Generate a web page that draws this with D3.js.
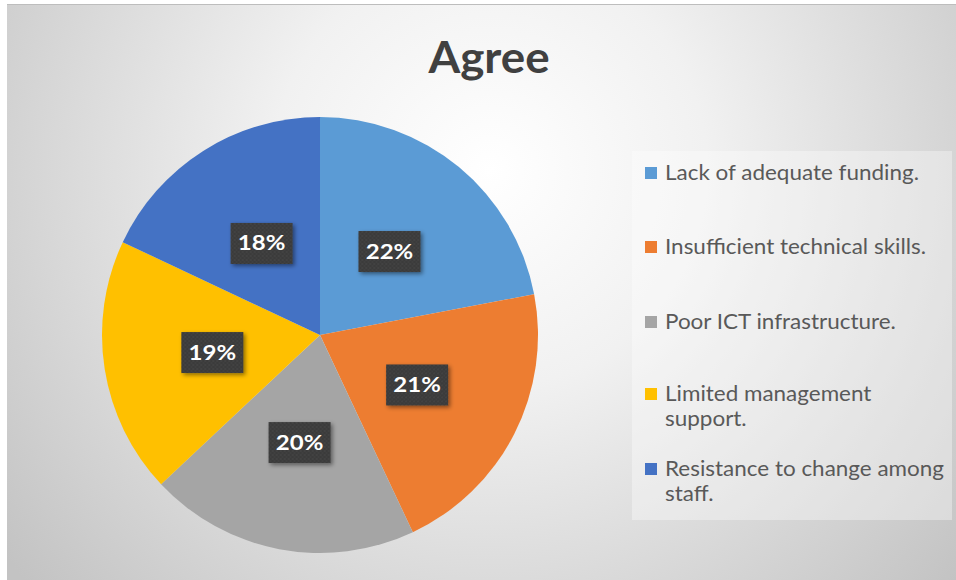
<!DOCTYPE html>
<html><head><meta charset="utf-8">
<script src="https://cdn.jsdelivr.net/npm/d3@7"></script>
<style>html,body{margin:0;padding:0;background:#fff;}svg{display:block;}</style>
</head><body>
<svg id="c" width="956" height="580"></svg>
<script>
const title = "Agree";
const categories = ["Lack of adequate funding.", "Insufficient technical skills.", "Poor ICT infrastructure.", "Limited management support.", "Resistance to change among staff."];
const legendLines = [["Lack of adequate funding."], ["Insufficient technical skills."], ["Poor ICT infrastructure."], ["Limited management", "support."], ["Resistance to change among", "staff."]];
const values = [22, 21, 20, 19, 18];
const labels = ["22%", "21%", "20%", "19%", "18%"];
const colors = ["#5B9BD5", "#ED7D31", "#A5A5A5", "#FFC000", "#4472C4"];

const svg = d3.select("#c");
const defs = svg.append("defs");
const rg = defs.append("radialGradient").attr("id","bg").attr("gradientUnits","userSpaceOnUse")
  .attr("cx",490).attr("cy",170).attr("r",620);
rg.append("stop").attr("offset","0").attr("stop-color","#ffffff");
rg.append("stop").attr("offset","0.35").attr("stop-color","#f1f1f1");
rg.append("stop").attr("offset","1").attr("stop-color","#c3c3c3");

const pat = defs.append("pattern").attr("id","dots").attr("patternUnits","userSpaceOnUse").attr("width",4).attr("height",4);
pat.append("rect").attr("width",4).attr("height",4).attr("fill","#3a3a3a");
pat.append("circle").attr("cx",1).attr("cy",1).attr("r",0.8).attr("fill","#4e4e4e");
pat.append("circle").attr("cx",3).attr("cy",3).attr("r",0.8).attr("fill","#454545");

const sh = defs.append("filter").attr("id","sh").attr("x","-30%").attr("y","-30%").attr("width","160%").attr("height","160%");
sh.append("feDropShadow").attr("dx",2).attr("dy",2).attr("stdDeviation",2).attr("flood-color","#000").attr("flood-opacity",0.45);

svg.append("rect").attr("x",7).attr("y",4).attr("width",949).attr("height",576).attr("fill","url(#bg)");
svg.append("line").attr("x1",7).attr("x2",956).attr("y1",4.5).attr("y2",4.5).attr("stroke","#bdbdbd").attr("stroke-width",1);

svg.append("g").attr("transform","translate(489,73) scale(1.04,1)")
  .append("text").attr("x",0).attr("y",0).attr("text-anchor","middle")
  .attr("font-family","Lato, 'Open Sans', sans-serif").attr("font-weight","bold").attr("font-size",44)
  .attr("fill","#404040").text(title);

const cx = 320, cy = 335, R = 218;
const pie = d3.pie().sort(null).value(d => d);
const arcs = pie(values);
const arc = d3.arc().innerRadius(0).outerRadius(R);
const g = svg.append("g").attr("transform",`translate(${cx},${cy})`);
g.selectAll("path").data(arcs).join("path").attr("d",arc).attr("fill",(d,i)=>colors[i]);

const labelArc = d3.arc().innerRadius(0).outerRadius(R);
const lg = g.selectAll("g.lab").data(arcs).join("g").attr("class","lab")
  .attr("transform", d => { const c = labelArc.centroid(d); return `translate(${c[0]},${c[1]})`; });
lg.append("rect").attr("x",-31).attr("y",-20).attr("width",62).attr("height",41)
  .attr("fill","url(#dots)").attr("filter","url(#sh)");
lg.append("g").attr("transform","scale(1.2,1)").append("text").attr("text-anchor","middle").attr("y",7.5)
  .attr("font-family","Lato, 'Open Sans', sans-serif").attr("font-weight","bold").attr("font-size",20)
  .attr("fill","#ffffff").text((d,i)=>labels[i]);

// legend
svg.append("rect").attr("x",632).attr("y",151).attr("width",320).attr("height",369)
  .attr("fill","#ffffff").attr("fill-opacity",0.35);
const ys = [173, 247, 322, 394, 469];
const leg = svg.selectAll("g.leg").data(categories).join("g").attr("class","leg")
  .attr("transform",(d,i)=>`translate(645,${ys[i]})`);
leg.append("rect").attr("x",0).attr("y",-6).attr("width",12).attr("height",12).attr("fill",(d,i)=>colors[i]);
leg.each(function(d,i){
  const t = d3.select(this).append("g").attr("transform","translate(20,0) scale(1.07,1)").append("text").attr("x",0).attr("y",7)
    .attr("font-family","Lato, 'Open Sans', sans-serif").attr("font-size",21).attr("fill","#595959");
  legendLines[i].forEach((ln,j)=>t.append("tspan").attr("x",0).attr("dy", j===0?0:25).text(ln));
});
</script>
</body></html>
